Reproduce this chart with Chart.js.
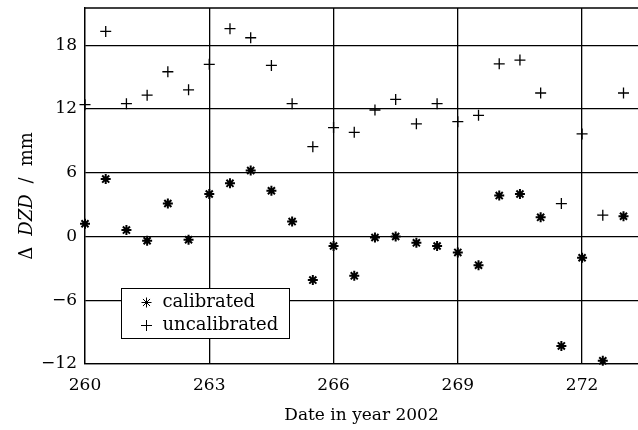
<!DOCTYPE html>
<html>
<head>
<meta charset="utf-8">
<script src="https://cdn.jsdelivr.net/npm/chart.js@4"></script>
<style>
  html, body { margin: 0; padding: 0; background: #fff; }
  #wrap { width: 638px; height: 430px; }
</style>
</head>
<body>
<div id="wrap"><canvas id="dzd"></canvas></div>
<script>
'use strict';

// day of year 2002, twice a day
const days = [260, 260.5, 261, 261.5, 262, 262.5, 263, 263.5, 264, 264.5, 265, 265.5, 266, 266.5,
  267, 267.5, 268, 268.5, 269, 269.5, 270, 270.5, 271, 271.5, 272, 272.5, 273];

const calibrated = [1.2, 5.4, 0.6, -0.4, 3.1, -0.3, 4.0, 5.0, 6.2, 4.3, 1.4, -4.1, -0.9, -3.7,
  -0.1, 0.0, -0.6, -0.9, -1.5, -2.7, 3.85, 4.0, 1.8, -10.3, -2.0, -11.7, 1.9];

const uncalibrated = [12.4, 19.3, 12.5, 13.3, 15.5, 13.8, 16.2, 19.55, 18.7, 16.1, 12.5, 8.45, 10.25, 9.8,
  11.9, 12.9, 10.6, 12.5, 10.8, 11.4, 16.25, 16.6, 13.5, 3.1, 9.65, 2.0, 13.5];

const xTicks = [260, 263, 266, 269, 272];
const yTicks = [-12, -6, 0, 6, 12, 18];

const serif = 'DejaVu Serif';
Chart.defaults.color = '#000';
Chart.defaults.font.family = serif;
Chart.defaults.font.size = 17;

const toPoints = (ys) => days.map((d, i) => ({ x: d, y: ys[i] }));

// top frame line, legend box and the y title with italic DZD
const extras = {
  id: 'extras',
  afterDraw(chart) {
    const ctx = chart.ctx;
    const a = chart.chartArea;
    ctx.save();
    ctx.strokeStyle = '#000';
    ctx.lineWidth = 1.3;
    ctx.beginPath();
    ctx.moveTo(a.left, a.top);
    ctx.lineTo(a.right, a.top);
    ctx.stroke();

    // legend
    const bx = 121.5, by = 288.5, bw = 168, bh = 50;
    ctx.fillStyle = '#fff';
    ctx.fillRect(bx, by, bw, bh);
    ctx.lineWidth = 1;
    ctx.strokeRect(bx, by, bw, bh);
    ctx.font = '18px "' + serif + '"';
    ctx.textBaseline = 'middle';
    ctx.textAlign = 'left';
    chart.data.datasets.forEach((ds, i) => {
      const ry = by + 14 + i * 23;
      ctx.strokeStyle = '#000';
      Chart.helpers.drawPoint(ctx, {
        pointStyle: ds.pointStyle, radius: ds.pointRadius, borderWidth: ds.borderWidth, rotation: 0
      }, bx + 25, ry);
      ctx.fillStyle = '#000';
      ctx.fillText(ds.label, bx + 41, ry);
    });

    // y title, rotated
    const parts = [
      { t: '\u0394', f: '18px "' + serif + '"' },
      { t: 'DZD', f: 'italic 18px "' + serif + '"' },
      { t: '/', f: '18px "' + serif + '"' },
      { t: 'mm', f: '18px "' + serif + '"' }
    ];
    const gap = 11;
    let total = 0;
    parts.forEach((p) => { ctx.font = p.f; p.w = ctx.measureText(p.t).width; total += p.w; });
    total += gap * (parts.length - 1);
    ctx.translate(27, 196);
    ctx.rotate(-Math.PI / 2);
    let x = -total / 2;
    parts.forEach((p) => {
      ctx.font = p.f;
      ctx.fillText(p.t, x, 0);
      x += p.w + gap;
    });
    ctx.restore();
  }
};

new Chart(document.querySelector('#dzd'), {
  type: 'scatter',
  data: {
    datasets: [
      {
        label: 'calibrated',
        data: toPoints(calibrated),
        pointStyle: 'star',
        pointRadius: 5,
        pointHoverRadius: 5,
        borderWidth: 2,
        borderColor: '#000',
        backgroundColor: '#000',
        clip: false
      },
      {
        label: 'uncalibrated',
        data: toPoints(uncalibrated),
        pointStyle: 'cross',
        pointRadius: 5.5,
        pointHoverRadius: 5.5,
        borderWidth: 1.3,
        borderColor: '#000',
        backgroundColor: '#000',
        clip: false
      }
    ]
  },
  options: {
    responsive: true,
    maintainAspectRatio: false,
    animation: false,
    events: [],
    layout: { autoPadding: false, padding: { top: 8, left: 0, right: 0, bottom: 0 } },
    plugins: {
      legend: { display: false },
      tooltip: { enabled: false }
    },
    scales: {
      x: {
        type: 'linear',
        min: 260,
        max: 273.35,
        afterBuildTicks: (scale) => { scale.ticks = xTicks.map((v) => ({ value: v })); },
        afterFit: (scale) => { scale.height = 66; scale.paddingRight = 0; },
        grid: { color: '#000', lineWidth: 1.3, drawTicks: false, tickLength: 0 },
        border: { color: '#000', width: 1.3 },
        ticks: { padding: 11, maxRotation: 0, autoSkip: false },
        title: {
          display: true,
          text: 'Date in year 2002',
          padding: { top: 0, bottom: 4 }
        }
      },
      y: {
        min: -12,
        max: 21.5,
        afterBuildTicks: (scale) => { scale.ticks = yTicks.map((v) => ({ value: v })); },
        afterFit: (scale) => { scale.width = 85; scale.paddingTop = 0; scale.paddingBottom = 0; },
        grid: { color: '#000', lineWidth: 1.3, drawTicks: false, tickLength: 0 },
        border: { color: '#000', width: 1.3 },
        ticks: {
          padding: 8,
          callback: (v) => (v < 0 ? '\u2212' + Math.abs(v) : String(v))
        }
      }
    }
  },
  plugins: [extras]
});
</script>
</body>
</html>
